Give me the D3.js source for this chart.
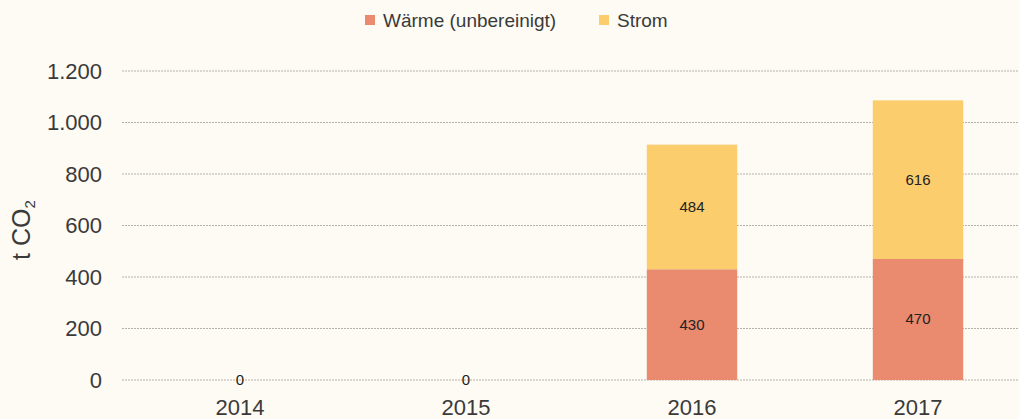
<!DOCTYPE html>
<html>
<head>
<meta charset="utf-8">
<script src="https://cdn.jsdelivr.net/npm/d3@7"></script>
<style>
  body { margin: 0; background: #fdfbf4; }
  svg { display: block; font-family: "Liberation Sans", Arial, sans-serif; }
</style>
</head>
<body>
<div id="chart"></div>
<script>
// Chart data
const years = ['2014', '2015', '2016', '2017'];
const waerme = [0, 0, 430, 470];
const strom = [0, 0, 484, 616];
const seriesNames = ['Wärme (unbereinigt)', 'Strom'];
const yTicks = [0, 200, 400, 600, 800, 1000, 1200];

const width = 1019, height = 419;
const colors = { 'Wärme (unbereinigt)': '#ea8a6f', 'Strom': '#fbcd6d' };

const svg = d3.select('#chart').append('svg')
    .attr('width', width)
    .attr('height', height);

// Scales
const x = d3.scaleBand()
    .domain(years)
    .range([127, 1031])
    .paddingInner(0.6)
    .paddingOuter(0.3);

const y = d3.scaleLinear()
    .domain([0, 1200])
    .range([380, 71]);

const fmt = d => d3.format(',')(d).replace(/,/g, '.');

// Grid lines
svg.append('g')
    .selectAll('line')
    .data(yTicks)
    .enter().append('line')
    .attr('x1', 122)
    .attr('x2', width)
    .attr('y1', d => y(d))
    .attr('y2', d => y(d))
    .attr('stroke', '#b5b2aa')
    .attr('stroke-width', 1)
    .attr('stroke-dasharray', '2,1');

// Y axis tick labels
const yAxis = d3.axisLeft(y).tickValues(yTicks).tickFormat(fmt).tickSize(0).tickPadding(0);
svg.append('g')
    .attr('transform', 'translate(102,0)')
    .call(yAxis)
    .call(g => g.select('.domain').remove())
    .selectAll('text')
    .attr('font-size', '22px')
    .attr('fill', '#3a3a3a')
    .attr('font-family', '"Liberation Sans", Arial, sans-serif');

// X axis labels
const xAxis = d3.axisBottom(x).tickSize(0).tickPadding(0);
svg.append('g')
    .attr('transform', 'translate(0,399)')
    .call(xAxis)
    .call(g => g.select('.domain').remove())
    .selectAll('text')
    .attr('font-size', '22px')
    .attr('fill', '#3a3a3a')
    .attr('font-family', '"Liberation Sans", Arial, sans-serif');

// Stacked bars
const rows = years.map((yr, i) => ({ year: yr, 'Wärme (unbereinigt)': waerme[i], 'Strom': strom[i] }));
const stacked = d3.stack().keys(seriesNames)(rows);

const layers = svg.append('g')
    .selectAll('g')
    .data(stacked)
    .enter().append('g')
    .attr('fill', d => colors[d.key]);

layers.selectAll('rect')
    .data(d => d)
    .enter().append('rect')
    .attr('x', d => x(d.data.year))
    .attr('width', x.bandwidth())
    .attr('y', d => y(d[1]))
    .attr('height', d => y(d[0]) - y(d[1]));

// Value labels
const labels = [];
stacked.forEach(layer => {
    layer.forEach(d => {
        const v = d[1] - d[0];
        if (layer.key === 'Strom' && v === 0) return;
        labels.push({ year: d.data.year, value: v, mid: (d[0] + d[1]) / 2 });
    });
});

svg.append('g')
    .selectAll('text')
    .data(labels)
    .enter().append('text')
    .attr('x', d => x(d.year) + x.bandwidth() / 2)
    .attr('y', d => y(d.mid) + 5)
    .attr('text-anchor', 'middle')
    .attr('font-size', '15px')
    .attr('fill', '#222')
    .text(d => d.value);

// Y axis title
const yTitle = svg.append('text')
    .attr('transform', 'translate(30,230) rotate(-90)')
    .attr('text-anchor', 'middle')
    .attr('font-size', '25px')
    .attr('fill', '#3a3a3a');
yTitle.append('tspan').text('t CO');
yTitle.append('tspan').attr('font-size', '15px').attr('dy', 5).text('2');

// Legend
const legend = svg.append('g').attr('transform', 'translate(365,20)');
const legendX = [0, 234];
seriesNames.forEach((name, i) => {
    const g = legend.append('g').attr('transform', `translate(${legendX[i]},0)`);
    g.append('rect')
        .attr('x', 0)
        .attr('y', -5)
        .attr('width', 10)
        .attr('height', 10)
        .attr('fill', colors[name]);
    g.append('text')
        .attr('x', 18)
        .attr('y', 7)
        .attr('font-size', '19px')
        .attr('fill', '#3a3a3a')
        .text(name);
});
</script>
</body>
</html>
